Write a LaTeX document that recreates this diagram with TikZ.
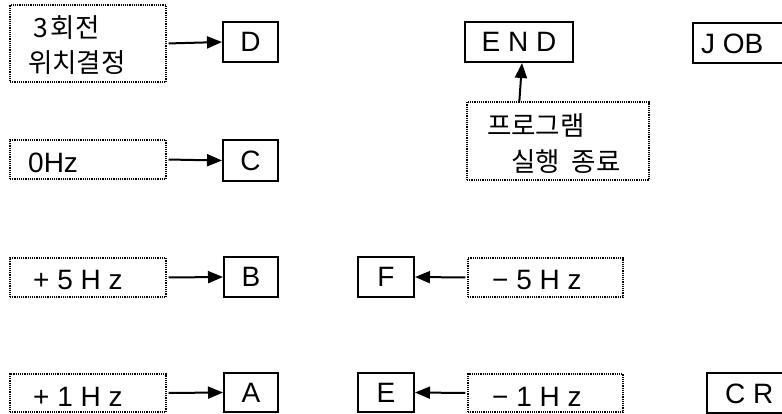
\documentclass[tikz,border=0pt]{standalone}
\usepackage{fontspec}
\setmainfont{Liberation Sans}
\newfontfamily\kr{Noto Sans CJK KR}
\usetikzlibrary{arrows.meta,calc}
\begin{document}
\begin{tikzpicture}[x=1pt,y=-1pt,
  solidbox/.style={draw,line width=2pt,inner sep=0pt,font=\fontsize{28pt}{32pt}\selectfont},
  dotbox/.style={draw,line width=1.3pt,dash pattern=on 1.2pt off 1pt,inner sep=0pt},
  lat/.style={inner sep=0pt,anchor=west,font=\fontsize{28pt}{32pt}\selectfont},
  kor/.style={inner sep=0pt,anchor=west,font=\kr\fontsize{26.5pt}{30pt}\selectfont},
  arr/.style={line width=2pt,-{Triangle[length=15pt,width=12pt]}},
]
\clip (0,0) rectangle (782,414);
\fill[white] (0,0) rectangle (782,414);
% row D
\node[dotbox,minimum width=156pt,minimum height=77pt] (dotD) at (88,43.5) {};
\node[kor] (tD1) at (33,27.5) {3\hspace{3pt}회전};
\node[kor] (tD2) at (28,62.5) {위치결정};
\node[solidbox,minimum width=55pt,minimum height=40pt] (D) at (250.5,42) {D};
\draw[arr,shorten <=2pt] (dotD.east) -- (D.west);
% END / JOB
\node[solidbox,minimum width=108pt,minimum height=40pt] (END) at (519,42) {E N D};
\node[solidbox,minimum width=97pt,minimum height=40pt] (JOB) at (741.5,43) {};
\node[lat] (JOBt) at (701,44) {J OB};
\node[dotbox,minimum width=182pt,minimum height=78pt] (prog) at (558,141) {};
\node[kor] (tP1) at (487,125) {프로그램};
\node[kor] (tP2) at (511,162) {실행\hspace{12pt}종료};
\draw[arr] ([xshift=53pt]prog.north west) -- ([xshift=58pt]END.south west);
% row C
\node[dotbox,minimum width=156pt,minimum height=39pt] (dot0) at (88,159.5) {};
\node[lat] (t0) at (28,162.5) {0Hz};
\node[solidbox,minimum width=55pt,minimum height=41pt] (C) at (250.5,160.5) {C};
\draw[arr,shorten <=2pt] (dot0.east) -- (C.west);
% row B
\node[dotbox,minimum width=156pt,minimum height=39pt] (dot5p) at (88,277.5) {};
\node[lat] (t5p) at (33,280) {+ 5 H z};
\node[solidbox,minimum width=54pt,minimum height=40pt] (B) at (251,277) {B};
\draw[arr,shorten <=2pt] (dot5p.east) -- (B.west);
\node[solidbox,minimum width=56pt,minimum height=40pt] (F) at (386,277) {F};
\node[dotbox,minimum width=155pt,minimum height=39pt] (dot5m) at (545.5,277.5) {};
\node[lat] (t5m) at (492,280) {− 5 H z};
\draw[arr,shorten <=2pt] (dot5m.west) -- (F.east);
% row A
\node[dotbox,minimum width=156pt,minimum height=38pt] (dot1p) at (88,393) {};
\node[lat] (t1p) at (33,397) {+ 1 H z};
\node[solidbox,minimum width=54pt,minimum height=39pt] (A) at (251,392.5) {A};
\draw[arr,shorten <=2pt] (dot1p.east) -- (A.west);
\node[solidbox,minimum width=56pt,minimum height=39pt] (E) at (386,392.5) {E};
\node[dotbox,minimum width=155pt,minimum height=38pt] (dot1m) at (545.5,393) {};
\node[lat] (t1m) at (492,397) {− 1 H z};
\draw[arr,shorten <=2pt] (dot1m.west) -- (E.east);
\node[solidbox,minimum width=83pt,minimum height=40pt] (CR) at (748.5,393) {};
\node[lat] (CRt) at (725,394) {C R};
\end{tikzpicture}
\end{document}
